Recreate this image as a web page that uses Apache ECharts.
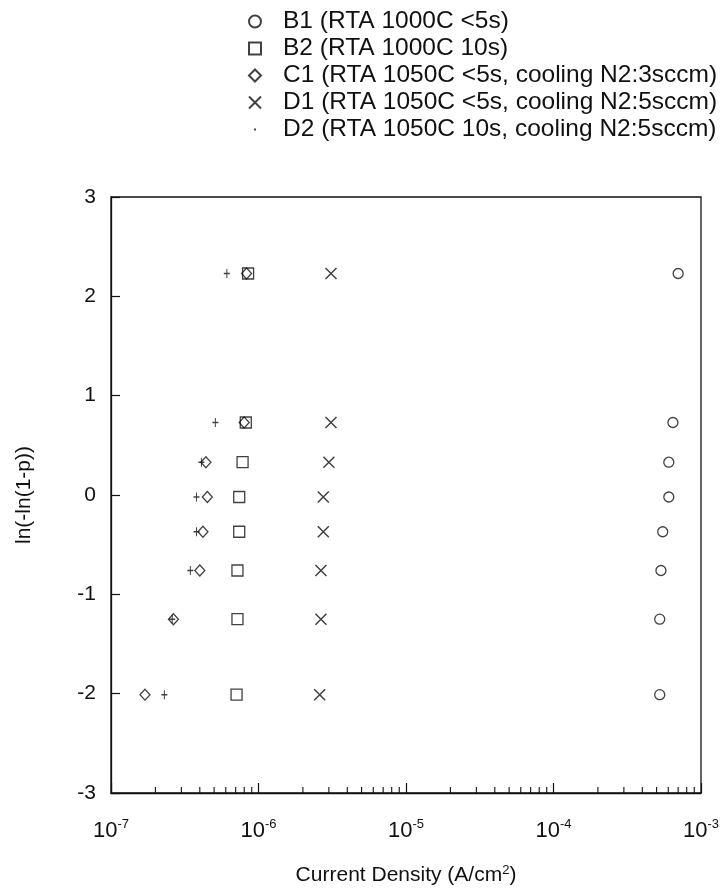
<!DOCTYPE html>
<html>
<head>
<meta charset="utf-8">
<script src="https://cdn.jsdelivr.net/npm/echarts@6/dist/echarts.min.js"></script>
<style>
  html, body { margin: 0; padding: 0; background: #fff; }
  #chart { width: 728px; height: 895px; }
</style>
</head>
<body>
<div id="chart"></div>
<script>
// Weibull plot ordinate, ln(-ln(1-p)), one value per ranked sample (top to bottom)
const weibullY = [2.23, 0.73, 0.33, -0.02, -0.37, -0.76, -1.25, -2.01];

// Breakdown current density (A/cm^2) for each sample group, same order as weibullY
const b1 = [7.0e-4, 6.45e-4, 6.05e-4, 6.05e-4, 5.5e-4, 5.35e-4, 5.25e-4, 5.25e-4];
const b2 = [8.5e-7, 8.2e-7, 7.8e-7, 7.4e-7, 7.4e-7, 7.2e-7, 7.2e-7, 7.1e-7];
const c1 = [8.3e-7, 8.0e-7, 4.4e-7, 4.5e-7, 4.2e-7, 4.0e-7, 2.65e-7, 1.7e-7];
const d1 = [3.1e-6, 3.1e-6, 3.0e-6, 2.75e-6, 2.75e-6, 2.65e-6, 2.65e-6, 2.6e-6];
const d2 = [6.1e-7, 5.1e-7, 4.1e-7, 3.8e-7, 3.8e-7, 3.45e-7, 2.6e-7, 2.3e-7];

const seriesNames = [
  'B1 (RTA 1000C <5s)',
  'B2 (RTA 1000C 10s)',
  'C1 (RTA 1050C <5s, cooling N2:3sccm)',
  'D1 (RTA 1050C <5s, cooling N2:5sccm)',
  'D2 (RTA 1050C 10s, cooling N2:5sccm)'
];

// Decade range of the current-density axis and the y ticks
const xDecades = [1e-7, 1e-6, 1e-5, 1e-4, 1e-3];
const yTicks = [-3, -2, -1, 0, 1, 2, 3];

const FONT = '"Liberation Sans", Arial, Helvetica, sans-serif';

function pairs(xs) {
  return xs.map((x, i) => [x, weibullY[i]]);
}

// minor log ticks 2..9 within each decade
const minorTicks = [];
for (let k = 0; k < xDecades.length - 1; k++) {
  for (let m = 2; m <= 9; m++) minorTicks.push([m * xDecades[k]]);
}

const hollow = { color: 'rgba(255,255,255,0)', borderColor: '#111', borderWidth: 1.3 };
const crossPath = 'path://M0,0L10,10M10,0L0,10';
const tickMarkPath = 'path://M3,0L3,8M1.5,4L4.5,4';
const dotIcon = 'path://M0,0M10,10M4.2,4.2L5.8,4.2L5.8,5.8L4.2,5.8Z';

const chart = echarts.init(document.getElementById('chart'), null, { renderer: 'canvas' });

chart.setOption({
  animation: false,
  backgroundColor: '#fff',
  textStyle: { fontFamily: FONT, color: '#111' },
  grid: {
    left: 111, right: 27, top: 197, bottom: 102,
    show: true, borderColor: '#111', borderWidth: 1.3, backgroundColor: 'transparent'
  },
  legend: {
    orient: 'vertical',
    left: 243,
    top: 4,
    itemWidth: 12,
    itemHeight: 12,
    itemGap: 2,
    selectedMode: false,
    textStyle: { fontFamily: FONT, fontSize: 24.5, color: '#111', padding: [0, 0, 0, 17] },
    data: [
      { name: seriesNames[0] },
      { name: seriesNames[1] },
      { name: seriesNames[2] },
      { name: seriesNames[3] },
      { name: seriesNames[4], icon: dotIcon, itemStyle: { color: '#111', borderWidth: 0 } }
    ]
  },
  xAxis: {
    type: 'log',
    logBase: 10,
    min: xDecades[0],
    max: xDecades[xDecades.length - 1],
    name: '{t|Current Density (A/cm}{s|2}{t|)}',
    nameLocation: 'middle',
    nameGap: 71,
    nameTextStyle: {
      rich: {
        t: { fontFamily: FONT, fontSize: 21, color: '#111', lineHeight: 22, verticalAlign: 'bottom' },
        s: { fontFamily: FONT, fontSize: 13, color: '#111', lineHeight: 13, verticalAlign: 'top' }
      }
    },
    axisLine: { onZero: false, lineStyle: { color: '#111', width: 1.3 } },
    axisTick: { inside: true, length: 10, lineStyle: { color: '#111', width: 1.2 } },
    splitLine: { show: false },
    axisLabel: {
      margin: 25,
      formatter: function (v) {
        const e = Math.round(Math.log10(v));
        return '{b|10}{s|' + e + '}';
      },
      rich: {
        b: { fontFamily: FONT, fontSize: 22, color: '#111', lineHeight: 24, verticalAlign: 'bottom' },
        s: { fontFamily: FONT, fontSize: 13, color: '#111', lineHeight: 13, verticalAlign: 'top' }
      }
    }
  },
  yAxis: {
    type: 'value',
    min: yTicks[0],
    max: yTicks[yTicks.length - 1],
    interval: 1,
    name: 'ln(-ln(1-p))',
    nameLocation: 'middle',
    nameGap: 76,
    nameTextStyle: { fontFamily: FONT, fontSize: 21, color: '#111' },
    axisLine: { show: true, onZero: false, lineStyle: { color: '#111', width: 1.3 } },
    axisTick: { show: true, inside: true, length: 9, lineStyle: { color: '#111', width: 1.2 } },
    splitLine: { show: false },
    axisLabel: { margin: 15, fontFamily: FONT, fontSize: 21, color: '#111' }
  },
  series: [
    {
      name: seriesNames[0], type: 'scatter', symbol: 'circle', symbolSize: 10,
      itemStyle: hollow, data: pairs(b1), z: 3
    },
    {
      name: seriesNames[1], type: 'scatter', symbol: 'rect', symbolSize: 11,
      itemStyle: hollow, data: pairs(b2), z: 3
    },
    {
      name: seriesNames[2], type: 'scatter', symbol: 'diamond', symbolSize: [10, 11],
      itemStyle: hollow, data: pairs(c1), z: 3
    },
    {
      name: seriesNames[3], type: 'scatter', symbol: crossPath, symbolSize: 11,
      itemStyle: { color: 'rgba(255,255,255,0)', borderColor: '#111', borderWidth: 1.5 },
      data: pairs(d1), z: 3
    },
    {
      name: seriesNames[4], type: 'scatter', symbol: tickMarkPath, symbolSize: [6, 9],
      itemStyle: { color: 'rgba(255,255,255,0)', borderColor: '#111', borderWidth: 1.2 },
      data: pairs(d2), z: 3
    },
    {
      // minor log ticks along the bottom axis, drawn inside the plot
      type: 'custom',
      silent: true,
      clip: false,
      data: minorTicks,
      encode: { x: 0 },
      renderItem: function (params, api) {
        const p = api.coord([api.value(0), yTicks[0]]);
        return {
          type: 'line',
          shape: { x1: p[0], y1: p[1], x2: p[0], y2: p[1] - 6 },
          style: { stroke: '#111', lineWidth: 1.1 }
        };
      },
      z: 2
    }
  ]
});
</script>
</body>
</html>
